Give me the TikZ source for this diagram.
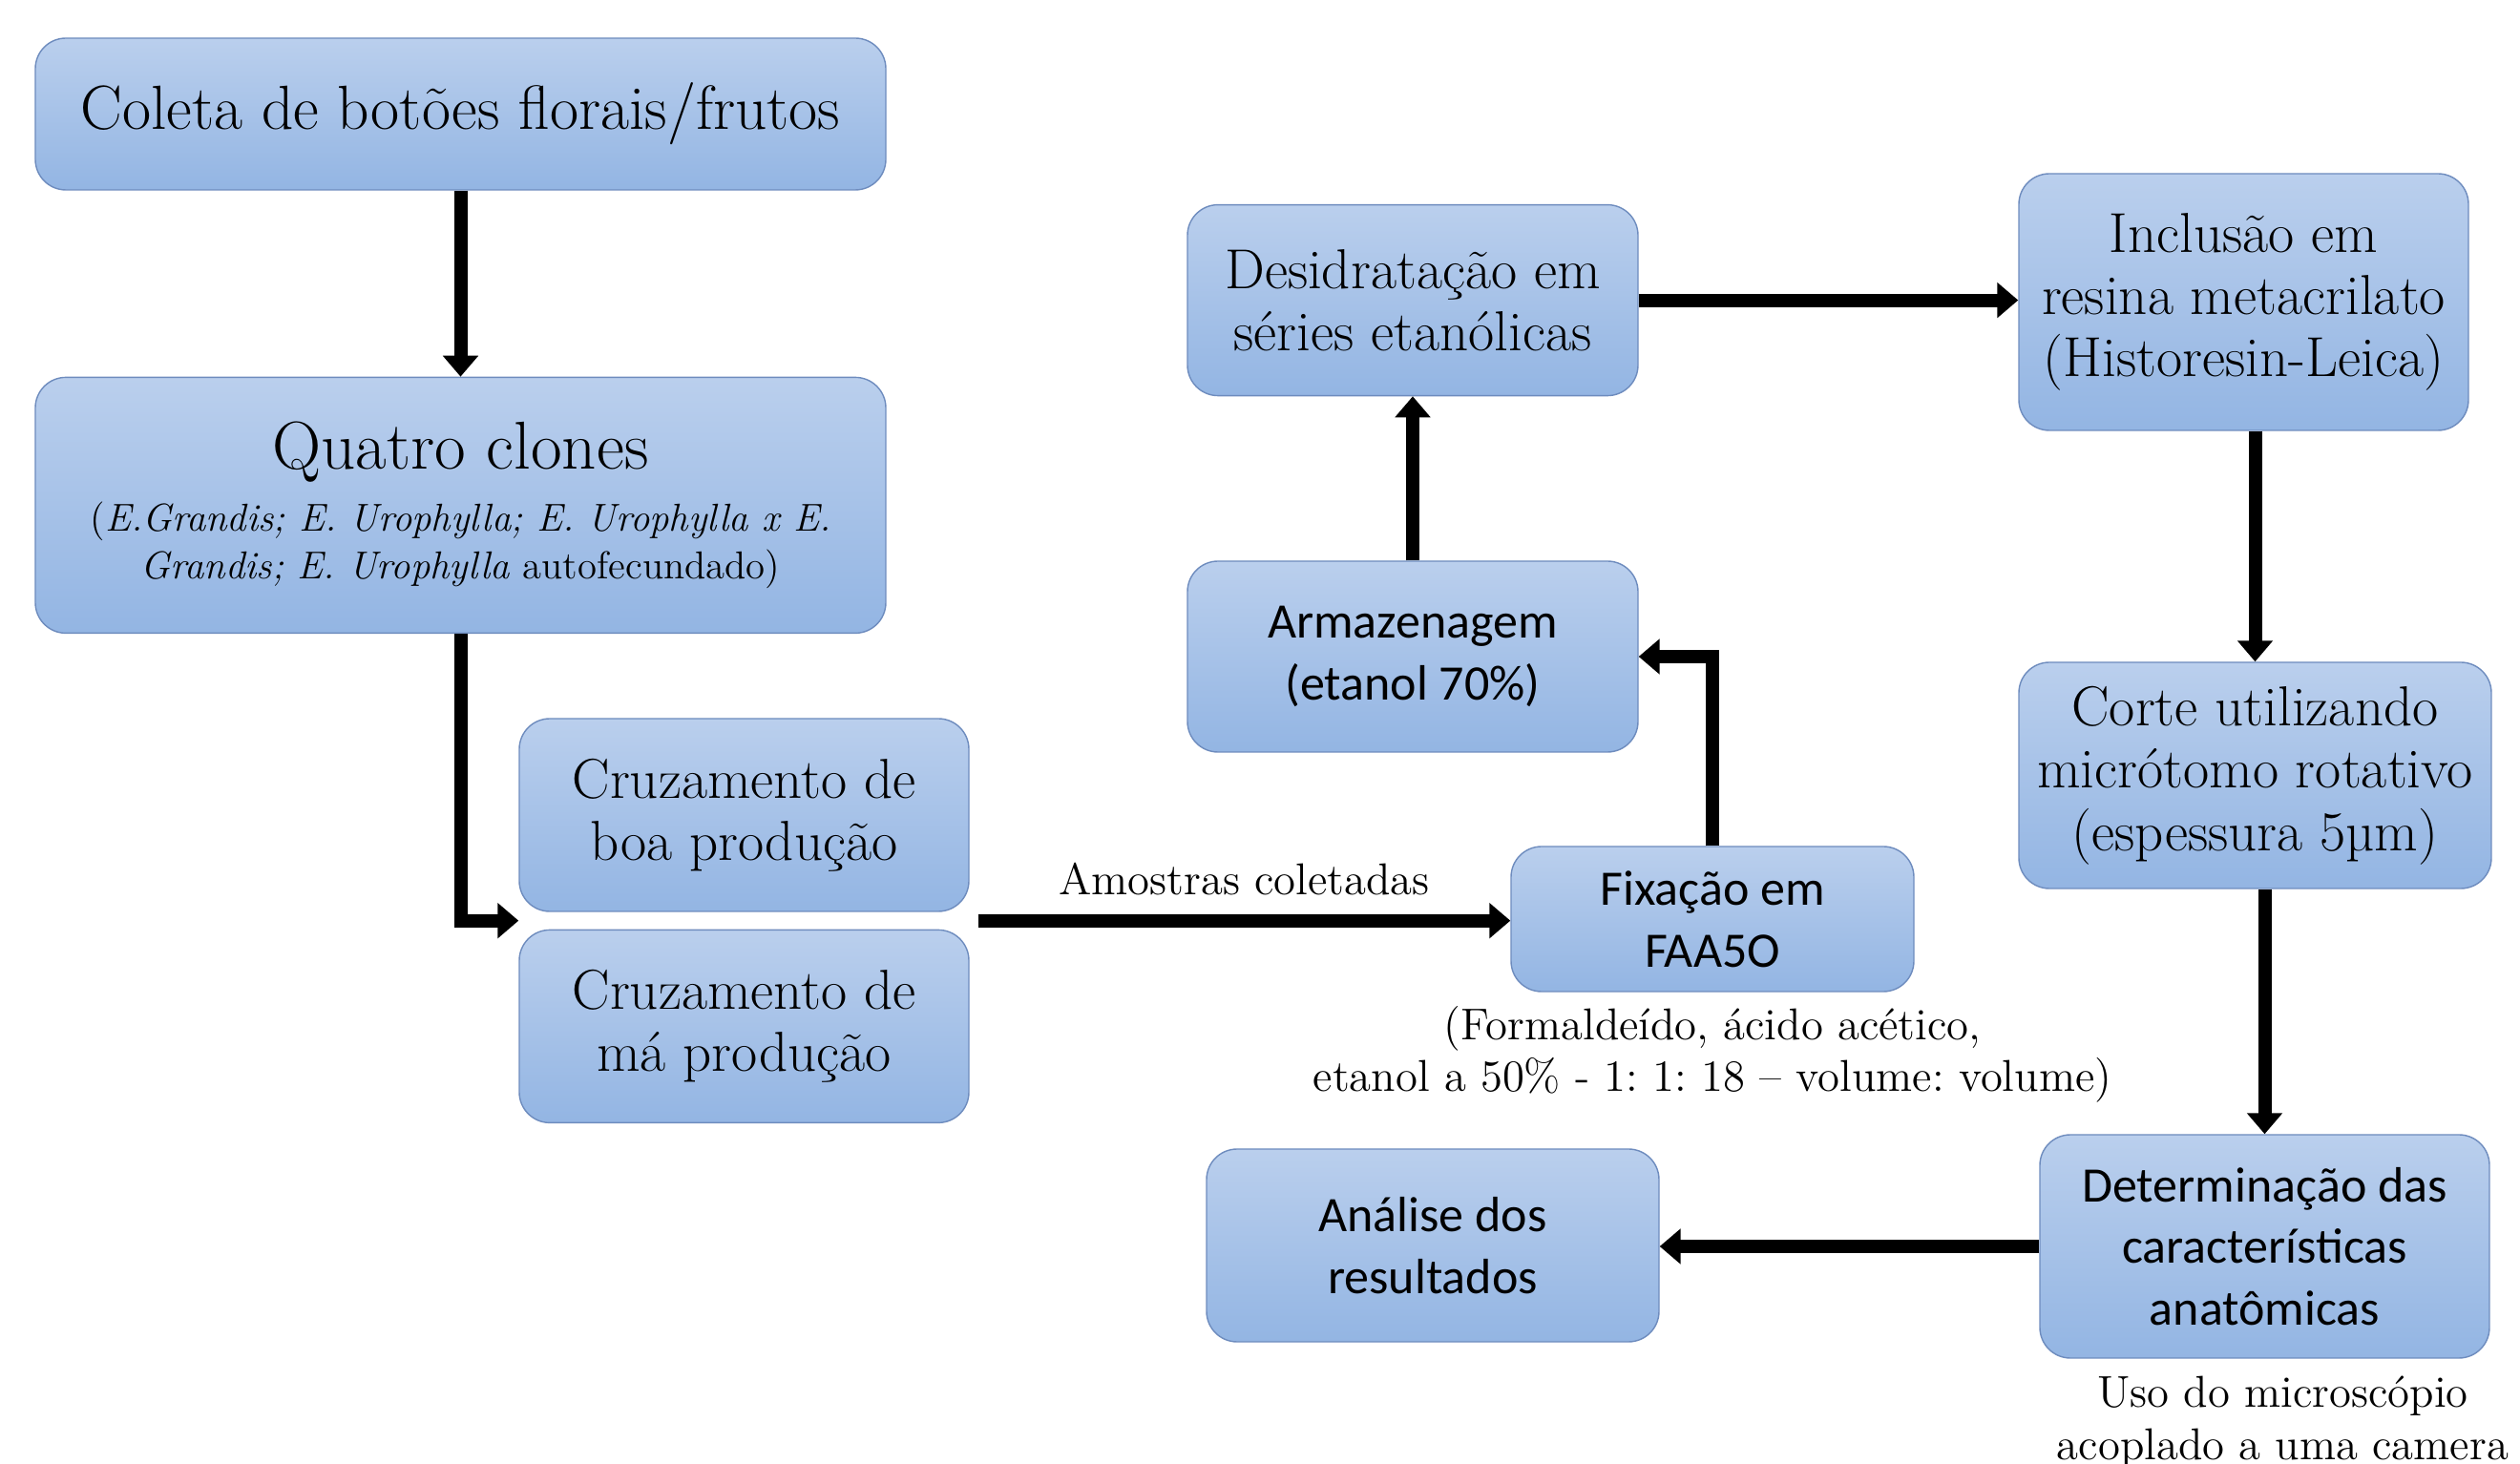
\documentclass[tikz,border=0pt]{standalone}
\usepackage{fontspec}
\usepackage{tikz}
\usetikzlibrary{arrows.meta, positioning, calc}
\newfontfamily\calibri{Carlito}
\frenchspacing
\definecolor{boxTop}{RGB}{186,207,237}
\definecolor{boxBottom}{RGB}{147,181,227}
\definecolor{boxBorder}{RGB}{110,140,190}
\tikzstyle{process} = [rectangle, align=center, draw=boxBorder, top color=boxTop, bottom color=boxBottom, text=black, rounded corners=0.32cm, inner sep=2pt, font=\fontsize{16.8}{18.6}\selectfont]
\tikzstyle{sansprocess} = [process, font=\calibri\fontsize{14.8}{18.4}\selectfont]
\tikzstyle{note} = [align=center, inner sep=0pt, font=\fontsize{13.3}{15.4}\selectfont]
\tikzstyle{arrow} = [line width=0.14cm, -{Triangle[width=0.36cm,length=0.22cm]}, black]

\begin{document}
\begin{tikzpicture}
        \useasboundingbox (0,0) rectangle (26.4,-15.34);

        \node (coleta) [process, minimum width=8.91cm, minimum height=1.59cm, font=\fontsize{18.6}{21}\selectfont] at (4.825,-1.195) {Coleta de botões florais/frutos};
        \node (quatro) [process, minimum width=8.91cm, minimum height=2.68cm, below=1.95cm of coleta, font=\fontsize{11.6}{14.3}\selectfont] {\fontsize{20.2}{22}\selectfont Quatro clones\\[4.3pt]
            (\textit{E.Grandis; E. Urophylla; E. Urophylla x E.}\\
            \textit{Grandis; E. Urophylla} autofecundado)};
        \node (boa) [process, minimum width=4.71cm, minimum height=2.02cm] at (7.795,-8.54) {Cruzamento de\\ boa produção};
        \node (ma) [process, minimum width=4.71cm, minimum height=2.02cm, below=0.18cm of boa] {Cruzamento de\\ má produção};
        \node (fix) [sansprocess, minimum width=4.22cm, minimum height=1.52cm] at (17.94,-9.63) {Fixação em\\ FAA5O};
        \node (formnote) [note, below=0.14cm of fix] {(Formaldeído, ácido acético,\\ etanol a 50\% - 1: 1: 18 – volume: volume)};
        \node (arm) [sansprocess, minimum width=4.72cm, minimum height=2.0cm] at (14.80,-6.88) {Armazenagem\\ (etanol 70\%)};
        \node (desid) [process, minimum width=4.72cm, minimum height=2.0cm, above=1.72cm of arm] {Desidratação em\\ séries etanólicas};
        \node (incl) [process, minimum width=4.71cm, minimum height=2.69cm] at (23.505,-3.165) {Inclusão em\\ resina metacrilato\\ (Historesin-Leica)};
        \node (corte) [process, minimum width=4.95cm, minimum height=2.37cm] at (23.625,-8.125) {Corte utilizando\\ micrótomo rotativo\\ (espessura 5µm)};
        \node (det) [sansprocess, minimum width=4.71cm, minimum height=2.34cm] at (23.725,-13.06) {Determinação das\\ características\\ anatômicas};
        \node (usonote) [note, below=0.18cm of det, xshift=0.19cm] {Uso do microscópio\\ acoplado a uma camera};
        \node (analise) [sansprocess, minimum width=4.74cm, minimum height=2.02cm] at (15.01,-13.05) {Análise dos\\ resultados};

        \coordinate (cruzin) at ($(boa.south west)!0.5!(ma.north west)$);
        \coordinate (cruzout) at ($(boa.south east)!0.5!(ma.north east)+(0.09,0)$);

        \draw [arrow] (coleta) -- (quatro);
        \draw [arrow] (quatro.south) |- (cruzin);
        \draw [arrow] (cruzout) -- (cruzout -| fix.west) node [note, midway, above=0.2cm] {Amostras coletadas};
        \draw [arrow] (fix.north) |- (arm.east);
        \draw [arrow] (arm) -- (desid);
        \draw [arrow] (desid.east) -- (desid.east -| incl.west);
        \draw [arrow] (corte.north |- incl.south) -- (corte.north);
        \draw [arrow] (det.north |- corte.south) -- (det.north);
        \draw [arrow] (det.west) -- (det.west -| analise.east);
    \end{tikzpicture}
\end{document}
